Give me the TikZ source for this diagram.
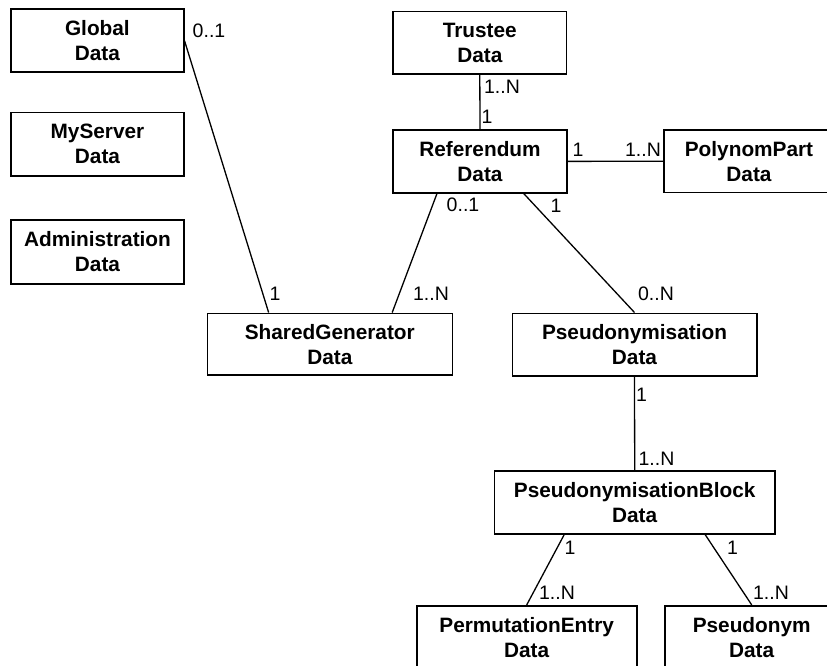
\documentclass[tikz,border=0pt]{standalone}
\usepackage{fontspec}
\setmainfont{Liberation Sans}
\usetikzlibrary{calc}
\tikzset{
  entity/.style={draw, line width=1.6pt, rectangle, inner sep=0pt, align=center,
    font=\fontsize{20.8}{25}\selectfont\bfseries},
  conn/.style={line width=1.3pt},
  mult/.style={inner sep=0pt, anchor=center, font=\fontsize{19.5}{21}\selectfont}
}
\begin{document}
\begin{tikzpicture}[x=1pt,y=-1pt]
\useasboundingbox (0,0) rectangle (827,666);
\clip (0,0) rectangle (827,666);
% entities
\node[entity, minimum width=172.7pt, minimum height=63pt] (glob) at (97.4,40.8) {Global\\Data};
\node[entity, minimum width=173pt, minimum height=63pt] (myserv) at (97.5,144.2) {MyServer\\Data};
\node[entity, minimum width=173pt, minimum height=64pt] (admin) at (97.5,252) {Administration\\Data};
\node[entity, minimum width=173.7pt, minimum height=62.3pt] (trustee) at (479.8,42.8) {Trustee\\Data};
\node[entity, minimum width=174pt, minimum height=62.7pt] (ref) at (480,161.4) {Referendum\\Data};
\node[entity, minimum width=170pt, minimum height=62.3pt] (poly) at (749,161.2) {PolynomPart\\Data};
\node[entity, minimum width=245pt, minimum height=61.7pt] (sg) at (329.8,344.2) {SharedGenerator\\Data};
\node[entity, minimum width=244.4pt, minimum height=62.4pt] (ps) at (634.5,344.5) {Pseudonymisation\\Data};
\node[entity, minimum width=280.7pt, minimum height=63pt] (blk) at (634.7,502.5) {PseudonymisationBlock\\Data};
\node[entity, minimum width=220pt, minimum height=63pt] (perm) at (526.7,637.2) {PermutationEntry\\Data};
\node[entity, minimum width=173.4pt, minimum height=63pt] (pn) at (751.7,637.2) {Pseudonym\\Data};
% connectors
\draw[conn] (glob.east) -- ($(sg.north west)!0.252!(sg.north east)$);
\draw[conn] (trustee.south) -- (ref.north);
\draw[conn] (ref.east) -- (poly.west);
\draw[conn] ($(ref.south west)!0.255!(ref.south east)$) -- ($(sg.north west)!0.753!(sg.north east)$);
\draw[conn] ($(ref.south west)!0.749!(ref.south east)$) -- (ps.north);
\draw[conn] (ps.south) -- (blk.north);
\draw[conn] ($(blk.south west)!0.25!(blk.south east)$) -- (perm.north);
\draw[conn] ($(blk.south west)!0.75!(blk.south east)$) -- (pn.north);
% multiplicities
\node[mult] (m1) at (209,31) {0..1};
\node[mult] (m2) at (275,294) {1};
\node[mult] (m3) at (463,205) {0..1};
\node[mult] (m4) at (431,294) {1..N};
\node[mult] (m5) at (502,86.5) {1..N};
\node[mult] (m6) at (487,116.5) {1};
\node[mult] (m7) at (578,150) {1};
\node[mult] (m8) at (643,150) {1..N};
\node[mult] (m9) at (556,205.5) {1};
\node[mult] (m10) at (656,293.5) {0..N};
\node[mult] (m11) at (641.5,395) {1};
\node[mult] (m12) at (656.5,459) {1..N};
\node[mult] (m13) at (570,548) {1};
\node[mult] (m14) at (557,593) {1..N};
\node[mult] (m15) at (732.5,548) {1};
\node[mult] (m16) at (771,593) {1..N};
\end{tikzpicture}
\end{document}
